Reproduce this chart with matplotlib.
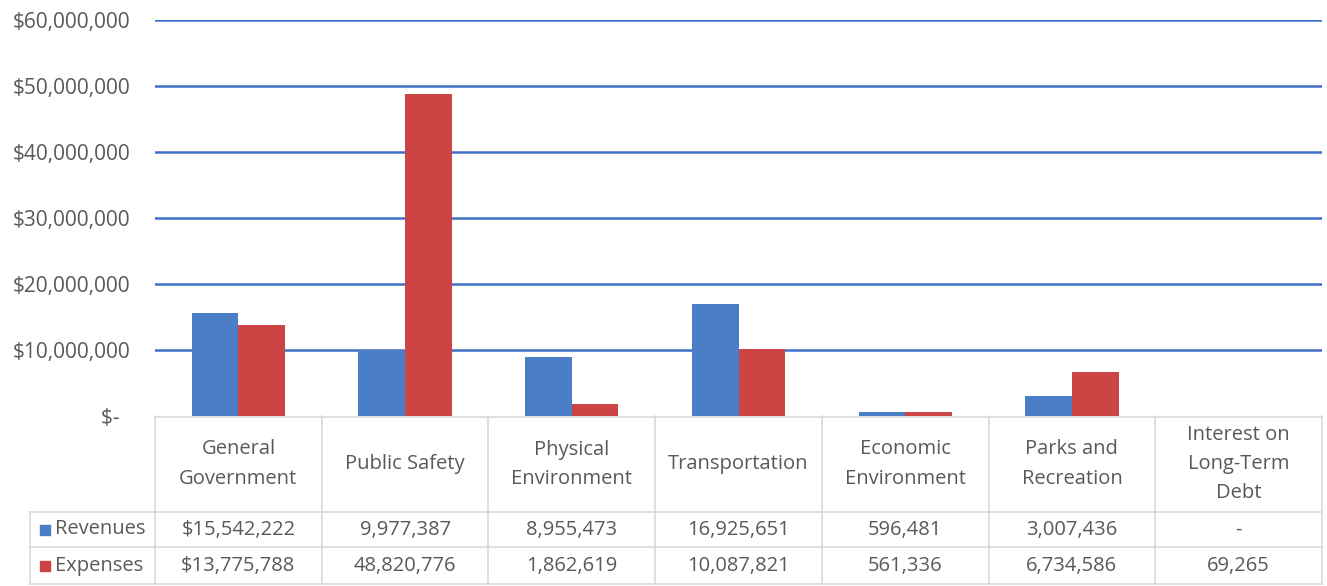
import matplotlib
matplotlib.use("Agg")
import matplotlib.pyplot as plt
import numpy as np

categories = ["General\nGovernment", "Public Safety", "Physical\nEnvironment", "Transportation",
              "Economic\nEnvironment", "Parks and\nRecreation", "Interest on\nLong-Term\nDebt"]
revenues = [15542222, 9977387, 8955473, 16925651, 596481, 3007436, 0]
expenses = [13775788, 48820776, 1862619, 10087821, 561336, 6734586, 69265]
rev_labels = ["$15,542,222", "9,977,387", "8,955,473", "16,925,651", "596,481", "3,007,436", "-"]
exp_labels = ["$13,775,788", "48,820,776", "1,862,619", "10,087,821", "561,336", "6,734,586", "69,265"]
series_names = ["Revenues", "Expenses"]
yticks = [0, 10000000, 20000000, 30000000, 40000000, 50000000, 60000000]
ytick_labels = ["$-  ", "$10,000,000", "$20,000,000", "$30,000,000", "$40,000,000", "$50,000,000", "$60,000,000"]

BLUE = "#4A7EC6"
RED = "#CC4444"
GRID = "#3F6FC6"
TXT = "#595959"
LINE = "#D9D9D9"
FS = 14.5

plt.rcParams['font.family'] = ['Open Sans', 'DejaVu Sans']

W, H = 1327, 586
fig = plt.figure(figsize=(W / 100, H / 100), dpi=100)

def rect(x0, y0, x1, y1):
    return [x0 / W, 1 - y1 / H, (x1 - x0) / W, (y1 - y0) / H]

ax = fig.add_axes(rect(155, 20, 1322, 416))
x = np.arange(len(categories))
bw = 0.28
ax.bar(x - bw / 2, revenues, bw, color=BLUE, zorder=3)
ax.bar(x + bw / 2, expenses, bw, color=RED, zorder=3)
ax.set_xlim(-0.5, len(categories) - 0.5)
ax.set_ylim(0, 60000000)
ax.set_yticks(yticks)
ax.set_yticklabels(ytick_labels, color=TXT, fontsize=15)
ax.tick_params(axis='y', length=0, pad=18)
ax.set_xticks([])
for s in ax.spines.values():
    s.set_visible(False)
for v in yticks[1:]:
    ax.axhline(v, color=GRID, lw=1.8, zorder=1)

# Table
tax = fig.add_axes(rect(30, 416, 1322, 584))
left = -0.5 - 125 / (1167 / 7)
tax.set_xlim(left, len(categories) - 0.5)
tax.set_ylim(168, 0)
tax.axis('off')
hdr_bottom = 96
r1_bottom = 131
r2_bottom = 168
lw = 1.2
tax.plot([-0.5, len(categories) - 0.5], [0.5, 0.5], color=LINE, lw=lw, clip_on=False)
for yy in [hdr_bottom, r1_bottom, r2_bottom - 0.5]:
    tax.plot([left, len(categories) - 0.5], [yy, yy], color=LINE, lw=lw, clip_on=False)
for i in range(len(categories) + 1):
    tax.plot([i - 0.5, i - 0.5], [0, r2_bottom], color=LINE, lw=lw, clip_on=False)
tax.plot([left, left], [hdr_bottom, r2_bottom], color=LINE, lw=lw, clip_on=False)

for i, c in enumerate(categories):
    tax.text(i, hdr_bottom / 2, c, ha='center', va='center', color=TXT, fontsize=FS, linespacing=1.6)
    tax.text(i, (hdr_bottom + r1_bottom) / 2, rev_labels[i], ha='center', va='center', color=TXT, fontsize=FS)
    tax.text(i, (r1_bottom + r2_bottom) / 2, exp_labels[i], ha='center', va='center', color=TXT, fontsize=FS)

for yc, name, col in [((hdr_bottom + r1_bottom) / 2, series_names[0], BLUE),
                      ((r1_bottom + r2_bottom) / 2, series_names[1], RED)]:
    tax.scatter([left + 0.09], [yc], marker='s', s=55, color=col, clip_on=False)
    tax.text(left + 0.15, yc, name, ha='left', va='center', color=TXT, fontsize=FS)

fig.savefig("out.png", dpi=100)
